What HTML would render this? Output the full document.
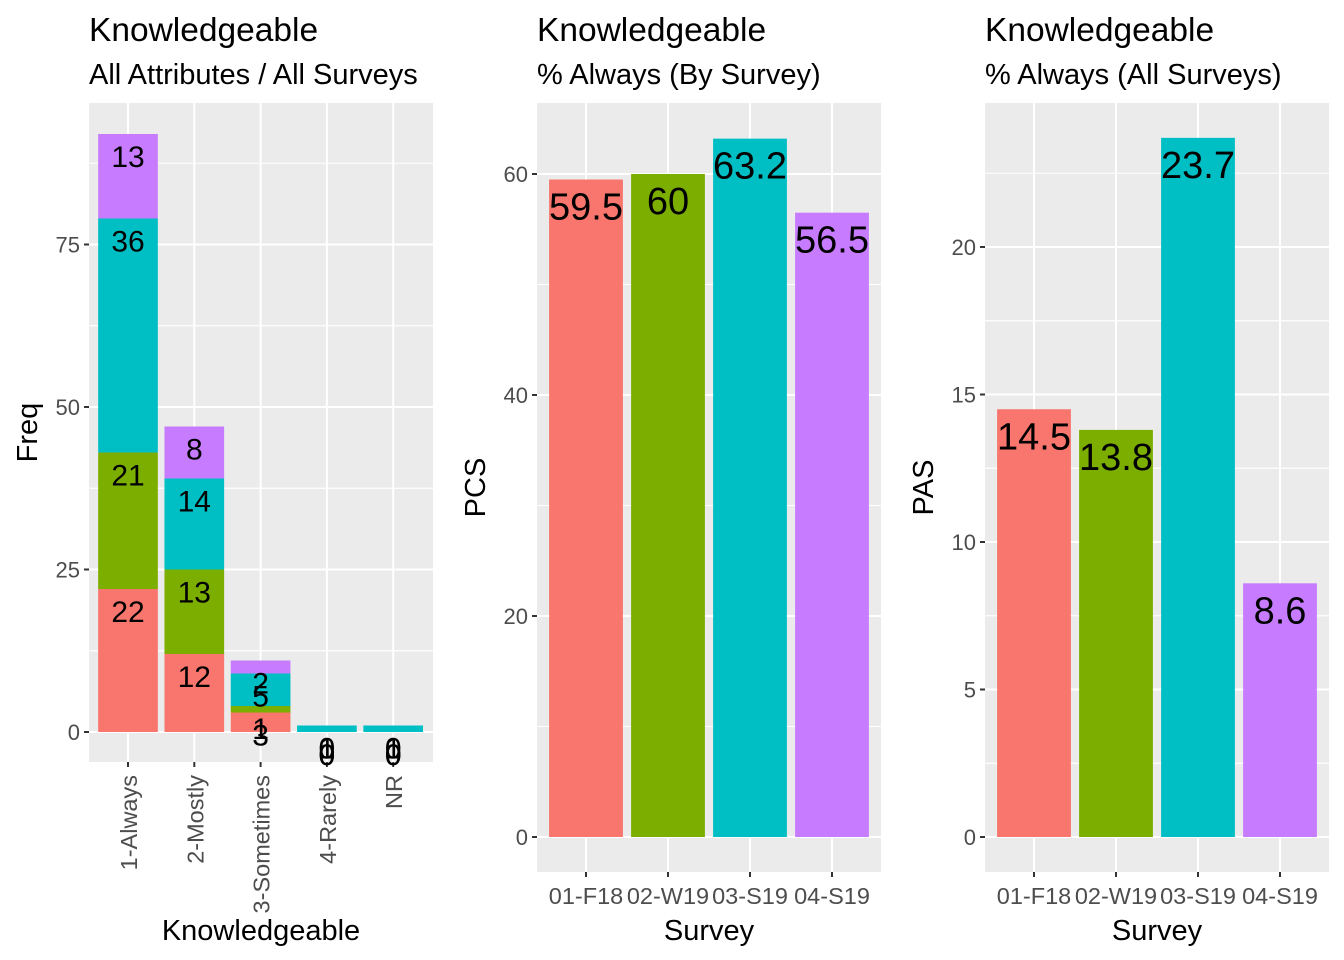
<!DOCTYPE html>
<html><head><meta charset="utf-8"><style>
body{margin:0;background:#fff}
svg{display:block;font-family:"Liberation Sans",Arial,sans-serif}
</style></head><body>
<svg id="c" width="1344" height="960" xmlns="http://www.w3.org/2000/svg"></svg>
<script>
// Left panel data (stacked)
const leftCats = ["1-Always","2-Mostly","3-Sometimes","4-Rarely","NR"];
const s01 = [22,12,3,0,0];
const s02 = [21,13,1,0,0];
const s03 = [36,14,5,1,1];
const s04 = [13,8,2,0,0];
const leftTicks = [0,25,50,75];
// Middle panel
const surveys = ["01-F18","02-W19","03-S19","04-S19"];
const pcsVals = [59.5,60,63.2,56.5];
const pcsTicks = [0,20,40,60];
// Right panel
const pasVals = [14.5,13.8,23.7,8.6];
const pasTicks = [0,5,10,15,20];
const colors = ["#F8766D","#7CAE00","#00BFC4","#C77CFF"];

const NS="http://www.w3.org/2000/svg";
const svg=document.getElementById('c');
function el(tag,attrs,parent,text){const e=document.createElementNS(NS,tag);for(const k in attrs)e.setAttribute(k,attrs[k]);if(text!==undefined)e.textContent=text;(parent||svg).appendChild(e);return e;}

function panel(o){
  const g=el('g',{});
  
  
  const bg=el('rect',{x:o.x0,y:o.y0,width:o.x1-o.x0,height:o.y1-o.y0,fill:'#EBEBEB'},g);
  
  
  const Y=v=>o.zeroY-v*o.ppu;
  const X=i=>o.cx0+i*o.step;
  const d=(o.ticks[1]-o.ticks[0]);
  o.ticks.forEach(t=>{
    [t-d/2,t+d/2].forEach(m=>{const y=Y(m); if(y>o.y0&&y<o.y1){el('line',{x1:o.x0,x2:o.x1,y1:y,y2:y,stroke:'#fff','stroke-width':0.9},g);}});
  });
  o.ticks.forEach(t=>{const y=Y(t);
    const gl=el('line',{x1:o.x0,x2:o.x1,y1:y,y2:y,stroke:'#fff','stroke-width':2},g);
    
    el('line',{x1:o.x0-5,x2:o.x0,y1:y,y2:y,stroke:'#333','stroke-width':2},g);
    const tl=el('text',{x:o.x0-9,y:y+8,'text-anchor':'end','font-size':22,fill:'#4D4D4D'},g,t);
    
  });
  o.cats.forEach((c,i)=>{const x=X(i);
    el('line',{x1:x,x2:x,y1:o.y0,y2:o.y1,stroke:'#fff','stroke-width':2},g);
    el('line',{x1:x,x2:x,y1:o.y1,y2:o.y1+5,stroke:'#333','stroke-width':2},g);
    let tl;
    if(o.rotate){tl=el('text',{x:0,y:0,transform:`translate(${x+9},${o.y1+13}) rotate(-90)`,'text-anchor':'end','font-size':23.5,fill:'#4D4D4D'},g,c);}
    else tl=el('text',{x:x,y:o.y1+32,'text-anchor':'middle','font-size':23.5,fill:'#4D4D4D'},g,c);
    
  });
  const bw=o.step*0.9;
  o.series.forEach((s,si)=>{
    s.vals.forEach((v,i)=>{
      if(v===null)return;
      const base=o.stackBase?o.stackBase[si][i]:0;
      const y0=Y(base),y1=Y(base+v);
      const r=el('rect',{x:X(i)-bw/2,y:y1,width:bw,height:y0-y1,fill:s.color},g);
      
      const lab=el('text',{x:X(i),y:y1+o.labOff,'text-anchor':'middle','dominant-baseline':'middle','font-size':o.labSize,fill:'#000'},g,v);
      
    });
  });
  const t1=el('text',{x:o.x0,y:41,'font-size':33.5,fill:'#000'},g,o.title);
  
  const t2=el('text',{x:o.x0,y:84,'font-size':29,fill:'#000'},g,o.subtitle);
  
  const xt=el('text',{x:(o.x0+o.x1)/2,y:940,'text-anchor':'middle','font-size':29,fill:'#000'},g,o.xtitle);
  
  const yt=el('text',{x:0,y:0,transform:`translate(${o.x0-52},${(o.y0+o.y1)/2}) rotate(-90)`,'text-anchor':'middle','font-size':29,fill:'#000'},g,o.ytitle);
  
}

const stackData=[s01,s02,s03,s04];
const bases=stackData.map((s,si)=>s.map((v,i)=>{let b=0;for(let k=0;k<si;k++)b+=stackData[k][i];return b;}));
panel({name:'panel-freq',x0:89,x1:433,y0:103,y1:762,zeroY:732,ppu:6.5,cx0:128,step:66.3,
  cats:leftCats,ticks:leftTicks,rotate:true,labOff:25,labSize:30,
  series:stackData.map((s,i)=>({name:surveys[i],vals:s,color:colors[i]})),stackBase:bases,
  title:'Knowledgeable',subtitle:'All Attributes / All Surveys',xtitle:'Knowledgeable',ytitle:'Freq'});
panel({name:'panel-pcs',x0:537,x1:881,y0:103,y1:872,zeroY:837,ppu:11.05,cx0:586,step:82,
  cats:surveys,ticks:pcsTicks,rotate:false,labOff:30,labSize:38,
  series:surveys.map((n,i)=>({name:n,vals:pcsVals.map((v,j)=>j===i?v:null),color:colors[i]})),
  title:'Knowledgeable',subtitle:'% Always (By Survey)',xtitle:'Survey',ytitle:'PCS'});
panel({name:'panel-pas',x0:985,x1:1329,y0:103,y1:872,zeroY:837,ppu:29.5,cx0:1034,step:82,
  cats:surveys,ticks:pasTicks,rotate:false,labOff:30,labSize:38,
  series:surveys.map((n,i)=>({name:n,vals:pasVals.map((v,j)=>j===i?v:null),color:colors[i]})),
  title:'Knowledgeable',subtitle:'% Always (All Surveys)',xtitle:'Survey',ytitle:'PAS'});
</script>
</body></html>
